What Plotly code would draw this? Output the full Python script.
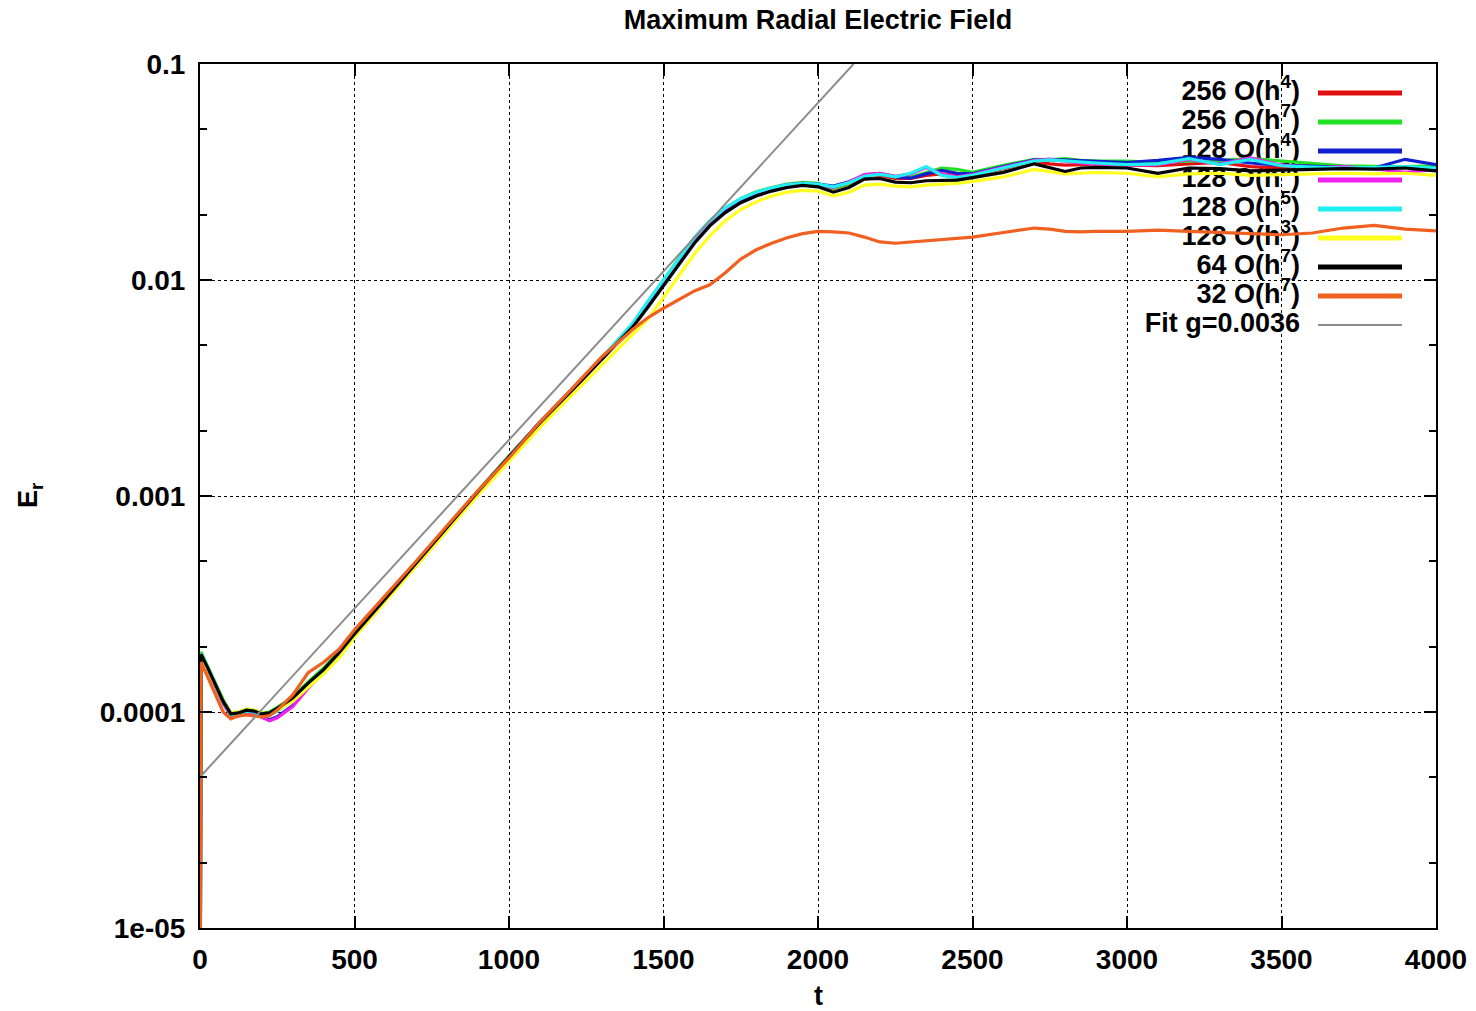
import plotly.graph_objects as go

# ---------------- data ----------------
t = [0, 3, 25, 50, 75, 100, 125, 150, 175, 200, 225, 250, 300, 350, 400, 450, 500,
     600, 700, 800, 900, 1000, 1100, 1200, 1300, 1400,
     1450, 1500, 1550, 1600, 1650, 1700, 1750, 1800, 1850, 1900, 1950, 2000, 2050,
     2100, 2150, 2200, 2250, 2300, 2350, 2400, 2450, 2500,
     2600, 2700, 2750, 2800, 2850, 2900, 3000, 3100, 3200, 3300, 3400, 3500, 3600,
     3700, 3800, 3900, 4000]

E_256_h4 = [1e-6, 1.83e-4, 1.59e-4, 1.34e-4, 1.11e-4, 9.7e-5, 9.8e-5, 1.01e-4, 1.0e-4, 9.7e-5, 9.7e-5, 1.02e-4, 1.14e-4, 1.35e-4, 1.56e-4, 1.86e-4, 2.3e-4,
            3.35e-4, 4.9e-4, 7.2e-4, 1.05e-3, 1.52e-3, 2.2e-3, 3.05e-3, 4.3e-3, 6.15e-3,
            7.7e-3, 9.7e-3, 1.22e-2, 1.53e-2, 1.83e-2, 2.1e-2, 2.33e-2, 2.5e-2, 2.63e-2, 2.73e-2, 2.78e-2, 2.75e-2, 2.65e-2,
            2.78e-2, 3.0e-2, 3.05e-2, 2.95e-2, 2.95e-2, 3.05e-2, 3.1e-2, 3.05e-2, 3.05e-2,
            3.28e-2, 3.52e-2, 3.45e-2, 3.4e-2, 3.42e-2, 3.45e-2, 3.4e-2, 3.38e-2, 3.45e-2, 3.5e-2, 3.35e-2, 3.3e-2, 3.4e-2,
            3.32e-2, 3.3e-2, 3.35e-2, 3.3e-2]

E_256_h7 = [1e-6, 1.9e-4, 1.62e-4, 1.37e-4, 1.14e-4, 9.9e-5, 1.0e-4, 1.03e-4, 1.02e-4, 9.9e-5, 1.0e-4, 1.05e-4, 1.17e-4, 1.38e-4, 1.6e-4, 1.9e-4, 2.32e-4,
            3.38e-4, 4.95e-4, 7.25e-4, 1.06e-3, 1.53e-3, 2.2e-3, 3.08e-3, 4.35e-3, 6.2e-3,
            7.9e-3, 1.0e-2, 1.26e-2, 1.57e-2, 1.87e-2, 2.15e-2, 2.38e-2, 2.56e-2, 2.68e-2, 2.78e-2, 2.83e-2, 2.8e-2, 2.65e-2,
            2.8e-2, 3.08e-2, 3.12e-2, 3.02e-2, 3.0e-2, 3.15e-2, 3.3e-2, 3.25e-2, 3.15e-2,
            3.4e-2, 3.62e-2, 3.6e-2, 3.65e-2, 3.58e-2, 3.55e-2, 3.55e-2, 3.5e-2, 3.55e-2, 3.58e-2, 3.65e-2, 3.55e-2, 3.45e-2,
            3.38e-2, 3.36e-2, 3.35e-2, 3.38e-2]

E_128_h4 = [1e-6, 1.82e-4, 1.58e-4, 1.33e-4, 1.1e-4, 9.6e-5, 9.7e-5, 1.0e-4, 9.9e-5, 9.5e-5, 9.2e-5, 9.5e-5, 1.07e-4, 1.3e-4, 1.52e-4, 1.82e-4, 2.28e-4,
            3.35e-4, 4.9e-4, 7.2e-4, 1.05e-3, 1.52e-3, 2.2e-3, 3.05e-3, 4.3e-3, 6.2e-3,
            7.8e-3, 9.9e-3, 1.24e-2, 1.55e-2, 1.85e-2, 2.12e-2, 2.35e-2, 2.52e-2, 2.65e-2, 2.75e-2, 2.8e-2, 2.78e-2, 2.72e-2,
            2.85e-2, 3.05e-2, 3.1e-2, 3.0e-2, 2.96e-2, 3.1e-2, 3.22e-2, 3.12e-2, 3.1e-2,
            3.35e-2, 3.6e-2, 3.62e-2, 3.6e-2, 3.55e-2, 3.55e-2, 3.5e-2, 3.58e-2, 3.7e-2, 3.62e-2, 3.48e-2, 3.4e-2, 3.35e-2,
            3.32e-2, 3.3e-2, 3.62e-2, 3.42e-2]

E_128_h6 = [1e-6, 1.84e-4, 1.58e-4, 1.34e-4, 1.11e-4, 9.6e-5, 9.6e-5, 9.9e-5, 9.8e-5, 9.4e-5, 9.1e-5, 9.4e-5, 1.06e-4, 1.29e-4, 1.53e-4, 1.84e-4, 2.28e-4,
            3.35e-4, 4.9e-4, 7.2e-4, 1.05e-3, 1.52e-3, 2.2e-3, 3.06e-3, 4.32e-3, 6.2e-3,
            7.9e-3, 9.9e-3, 1.25e-2, 1.56e-2, 1.86e-2, 2.14e-2, 2.37e-2, 2.54e-2, 2.66e-2, 2.76e-2, 2.8e-2, 2.77e-2, 2.68e-2,
            2.84e-2, 3.08e-2, 3.12e-2, 3.02e-2, 3.1e-2, 3.32e-2, 3.1e-2, 3.0e-2, 3.08e-2,
            3.32e-2, 3.58e-2, 3.62e-2, 3.55e-2, 3.48e-2, 3.45e-2, 3.4e-2, 3.42e-2, 3.62e-2, 3.44e-2, 3.68e-2, 3.4e-2, 3.3e-2,
            3.35e-2, 3.28e-2, 3.15e-2, 3.25e-2]

E_128_h5 = [1e-6, 1.86e-4, 1.6e-4, 1.35e-4, 1.12e-4, 9.7e-5, 9.8e-5, 1.01e-4, 1.0e-4, 9.7e-5, 9.7e-5, 1.01e-4, 1.13e-4, 1.34e-4, 1.56e-4, 1.86e-4, 2.3e-4,
            3.36e-4, 4.92e-4, 7.2e-4, 1.05e-3, 1.52e-3, 2.2e-3, 3.07e-3, 4.35e-3, 6.3e-3,
            8.0e-3, 1.0e-2, 1.26e-2, 1.57e-2, 1.88e-2, 2.16e-2, 2.38e-2, 2.55e-2, 2.67e-2, 2.76e-2, 2.8e-2, 2.78e-2, 2.7e-2,
            2.82e-2, 3.02e-2, 3.08e-2, 3.0e-2, 3.12e-2, 3.35e-2, 3.05e-2, 2.98e-2, 3.05e-2,
            3.3e-2, 3.55e-2, 3.6e-2, 3.55e-2, 3.5e-2, 3.48e-2, 3.42e-2, 3.45e-2, 3.65e-2, 3.42e-2, 3.62e-2, 3.38e-2, 3.33e-2,
            3.3e-2, 3.32e-2, 3.35e-2, 3.3e-2]

E_128_h3 = [1e-6, 1.8e-4, 1.58e-4, 1.33e-4, 1.12e-4, 9.9e-5, 1.0e-4, 1.03e-4, 1.02e-4, 9.9e-5, 9.8e-5, 1.02e-4, 1.12e-4, 1.3e-4, 1.5e-4, 1.78e-4, 2.22e-4,
            3.25e-4, 4.75e-4, 6.95e-4, 1.01e-3, 1.45e-3, 2.08e-3, 2.9e-3, 4.05e-3, 5.6e-3,
            6.6e-3, 8.3e-3, 1.05e-2, 1.32e-2, 1.6e-2, 1.88e-2, 2.12e-2, 2.3e-2, 2.45e-2, 2.55e-2, 2.6e-2, 2.58e-2, 2.45e-2,
            2.55e-2, 2.75e-2, 2.78e-2, 2.72e-2, 2.7e-2, 2.75e-2, 2.78e-2, 2.8e-2, 2.86e-2,
            3.0e-2, 3.25e-2, 3.18e-2, 3.1e-2, 3.12e-2, 3.15e-2, 3.12e-2, 3.0e-2, 3.1e-2, 3.12e-2, 3.05e-2, 3.08e-2, 3.1e-2,
            3.12e-2, 3.1e-2, 3.12e-2, 3.05e-2]

E_64_h7 = [1e-6, 1.85e-4, 1.6e-4, 1.35e-4, 1.12e-4, 9.8e-5, 9.9e-5, 1.02e-4, 1.01e-4, 9.8e-5, 9.9e-5, 1.04e-4, 1.16e-4, 1.36e-4, 1.57e-4, 1.88e-4, 2.3e-4,
           3.35e-4, 4.9e-4, 7.2e-4, 1.05e-3, 1.52e-3, 2.18e-3, 3.05e-3, 4.3e-3, 6.05e-3,
           7.5e-3, 9.4e-3, 1.18e-2, 1.48e-2, 1.78e-2, 2.05e-2, 2.28e-2, 2.45e-2, 2.58e-2, 2.68e-2, 2.74e-2, 2.7e-2, 2.55e-2,
           2.68e-2, 2.93e-2, 2.95e-2, 2.84e-2, 2.82e-2, 2.88e-2, 2.9e-2, 2.9e-2, 2.98e-2,
           3.15e-2, 3.45e-2, 3.3e-2, 3.18e-2, 3.3e-2, 3.32e-2, 3.3e-2, 3.12e-2, 3.3e-2, 3.28e-2, 3.2e-2, 3.22e-2, 3.25e-2,
           3.28e-2, 3.26e-2, 3.3e-2, 3.2e-2]

E_32_h7 = [1e-6, 1.7e-4, 1.45e-4, 1.2e-4, 1.0e-4, 9.3e-5, 9.6e-5, 9.7e-5, 9.6e-5, 9.5e-5, 9.6e-5, 1.02e-4, 1.2e-4, 1.52e-4, 1.7e-4, 1.95e-4, 2.4e-4,
           3.45e-4, 5.0e-4, 7.3e-4, 1.06e-3, 1.5e-3, 2.2e-3, 3.1e-3, 4.4e-3, 5.9e-3,
           6.7e-3, 7.4e-3, 8.1e-3, 8.9e-3, 9.5e-3, 1.08e-2, 1.25e-2, 1.38e-2, 1.48e-2, 1.57e-2, 1.64e-2, 1.68e-2, 1.67e-2,
           1.65e-2, 1.58e-2, 1.5e-2, 1.48e-2, 1.5e-2, 1.53e-2, 1.55e-2, 1.56e-2, 1.58e-2,
           1.66e-2, 1.74e-2, 1.72e-2, 1.68e-2, 1.67e-2, 1.68e-2, 1.68e-2, 1.7e-2, 1.68e-2, 1.66e-2, 1.65e-2, 1.62e-2, 1.65e-2,
           1.74e-2, 1.79e-2, 1.72e-2, 1.69e-2]

fit_t = [0, 2115]
fit_E = [5.0e-5, 0.1]

series_labels = ['256 O(h<sup>4</sup>)', '256 O(h<sup>7</sup>)', '128 O(h<sup>4</sup>)',
                 '128 O(h<sup>6</sup>)', '128 O(h<sup>5</sup>)', '128 O(h<sup>3</sup>)',
                 '64 O(h<sup>7</sup>)', '32 O(h<sup>7</sup>)']
fit_label = 'Fit g=0.0036'
series_values = [E_256_h4, E_256_h7, E_128_h4, E_128_h6, E_128_h5, E_128_h3, E_64_h7, E_32_h7]
series_colors = ['#e01010', '#22e022', '#1020d0', '#f020f0', '#20f0f0', '#ffff20', '#000000', '#f06020']

x_ticks = [0, 500, 1000, 1500, 2000, 2500, 3000, 3500, 4000]
y_ticks = [1e-5, 1e-4, 1e-3, 1e-2, 1e-1]
y_ticktext = ['1e-05', '0.0001', '0.001', '0.01', '0.1']
y_minor = [2e-5, 5e-5, 2e-4, 5e-4, 2e-3, 5e-3, 2e-2, 5e-2]

# ---------------- layout geometry (pixels) ----------------
W, H = 1476, 1011
L, R, T, B = 200, 40, 64, 83
PW, PH = W - L - R, H - T - B
FONT = 'Liberation Sans'


def px_x(px):
    return (px - L) / PW


def px_y(py):
    return (H - B - py) / PH


def px_to_t(px):
    return px_x(px) * 4000


def py_to_E(py):
    return 10 ** (-5 + 4 * px_y(py))


key_rows = [93 + 29 * i for i in range(9)]
key_text_right = 1300
key_sample = (1318, 1402)

fig = go.Figure()

# key text (drawn first so the curves pass over it, as in the reference)
fig.add_trace(go.Scatter(
    x=[px_to_t(key_text_right)] * 9,
    y=[py_to_E(r) for r in key_rows],
    mode='text', text=series_labels + [fit_label], textposition='middle left',
    textfont=dict(family=FONT, size=27, color='black', weight='bold'),
    hoverinfo='skip', showlegend=False))

for lab, vals, col in zip(series_labels, series_values, series_colors):
    fig.add_trace(go.Scatter(x=t, y=vals, mode='lines', name=lab,
                             line=dict(color=col, width=3.2), showlegend=False))

fig.add_trace(go.Scatter(x=fit_t, y=fit_E, mode='lines', name=fit_label,
                         line=dict(color='#8c8c8c', width=2), showlegend=False))

shapes = [dict(type='rect', xref='paper', yref='paper', x0=px_x(1090), x1=1, y0=px_y(340), y1=1,
               fillcolor='white', line=dict(width=0), layer='between')]
for r, col in zip(key_rows, series_colors + ['#8c8c8c']):
    shapes.append(dict(type='line', xref='paper', yref='paper',
                       x0=px_x(key_sample[0]), x1=px_x(key_sample[1]),
                       y0=px_y(r), y1=px_y(r),
                       line=dict(color=col, width=5 if col != '#8c8c8c' else 2), layer='between'))

tick_font = dict(family=FONT, size=28, color='black', weight='bold')
axis_font = dict(family=FONT, size=27, color='black', weight='bold')

fig.update_layout(
    width=W, height=H, margin=dict(l=L, r=R, t=T, b=B, autoexpand=False),
    paper_bgcolor='white', plot_bgcolor='white', showlegend=False,
    title=dict(text='Maximum Radial Electric Field', x=(L + PW / 2) / W, xanchor='center',
               y=1 - 20 / H, yanchor='middle', font=dict(family=FONT, size=27, color='black', weight='bold')),
    shapes=shapes,
    annotations=[
        dict(text='t', xref='paper', yref='paper', x=0.5, y=px_y(996), showarrow=False,
             xanchor='center', yanchor='middle', font=axis_font),
        dict(text='E<sub>r</sub>', xref='paper', yref='paper', x=px_x(30), y=px_y(495), showarrow=False,
             xanchor='center', yanchor='middle', textangle=-90, font=axis_font),
    ],
)

fig.update_xaxes(range=[0, 4000], tickvals=x_ticks, ticks='inside', ticklen=12, tickwidth=2,
                 tickcolor='black', showline=True, linewidth=2, linecolor='black', mirror='ticks',
                 showgrid=True, gridcolor='black', gridwidth=1, griddash='dot', zeroline=False,
                 tickfont=tick_font, ticklabelstandoff=5, automargin=False)
fig.update_yaxes(type='log', range=[-5, -1], tickvals=y_ticks, ticktext=y_ticktext, ticks='inside',
                 ticklen=12, tickwidth=2, tickcolor='black', showline=True, linewidth=2, linecolor='black',
                 mirror='ticks', showgrid=True, gridcolor='black', gridwidth=1, griddash='dot',
                 zeroline=False, tickfont=tick_font, ticklabelstandoff=7, automargin=False,
                 minor=dict(tickvals=y_minor, ticks='inside', ticklen=7, tickwidth=2, tickcolor='black',
                            showgrid=False))

fig.write_html('out.html')
